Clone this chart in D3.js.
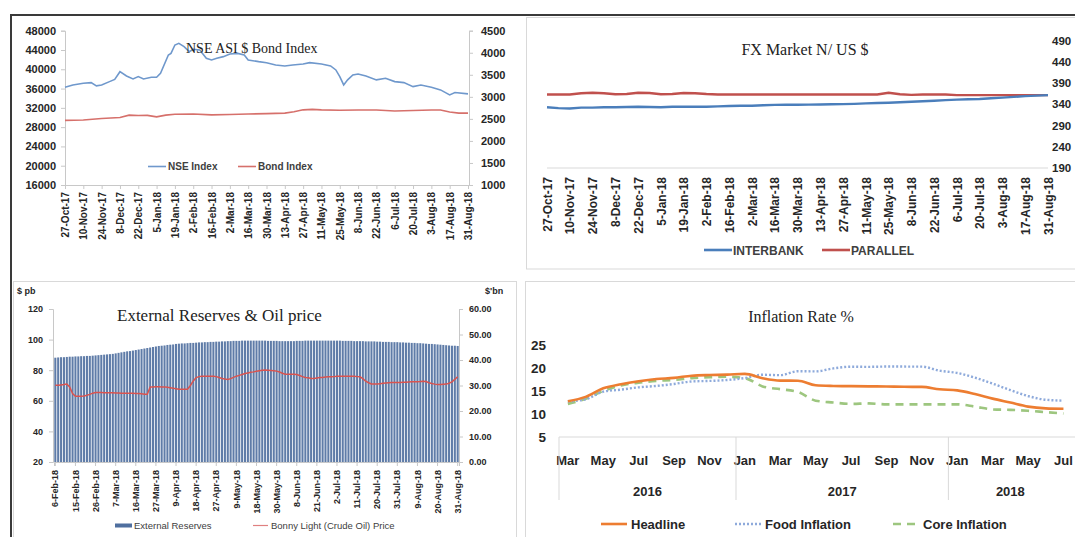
<!DOCTYPE html>
<html><head><meta charset="utf-8">
<script src="https://cdn.jsdelivr.net/npm/d3@7"></script>
<style>body{margin:0;background:#fff}svg{display:block}</style>
</head><body>
<svg id="c" width="1075" height="537"></svg>
<script>
// ================= DATA =================
// Panel 1: NSE ASI & Bond index
const nseDates = ["27-Oct-17","2-Nov-17","10-Nov-17","16-Nov-17","20-Nov-17","24-Nov-17","30-Nov-17","4-Dec-17","8-Dec-17","13-Dec-17","18-Dec-17","22-Dec-17","26-Dec-17","1-Jan-18","5-Jan-18","8-Jan-18","14-Jan-18","16-Jan-18","19-Jan-18","22-Jan-18","26-Jan-18","30-Jan-18","2-Feb-18","7-Feb-18","12-Feb-18","16-Feb-18","20-Feb-18","25-Feb-18","2-Mar-18","8-Mar-18","13-Mar-18","16-Mar-18","24-Mar-18","30-Mar-18","6-Apr-18","13-Apr-18","19-Apr-18","27-Apr-18","2-May-18","11-May-18","18-May-18","22-May-18","25-May-18","28-May-18","31-May-18","4-Jun-18","8-Jun-18","14-Jun-18","22-Jun-18","29-Jun-18","6-Jul-18","13-Jul-18","20-Jul-18","26-Jul-18","3-Aug-18","10-Aug-18","17-Aug-18","21-Aug-18","31-Aug-18"];
const nseIndex = [36270,36750,37100,37240,36550,36750,37440,37900,39500,38600,38000,38500,38000,38340,38340,39170,42960,43300,45030,45380,44700,43650,44140,44000,42270,41930,42270,42620,43170,43300,42960,41930,41580,41370,40890,40690,40890,41100,41370,41100,40690,39860,38480,36750,37800,38820,39030,38600,37800,38130,37440,37240,36400,36750,36270,35720,34680,35170,34890];
const bondDates = ["27-Oct-17","10-Nov-17","24-Nov-17","8-Dec-17","15-Dec-17","22-Dec-17","29-Dec-17","5-Jan-18","12-Jan-18","19-Jan-18","2-Feb-18","16-Feb-18","2-Mar-18","16-Mar-18","30-Mar-18","13-Apr-18","20-Apr-18","27-Apr-18","4-May-18","11-May-18","25-May-18","8-Jun-18","22-Jun-18","6-Jul-18","20-Jul-18","3-Aug-18","10-Aug-18","17-Aug-18","24-Aug-18","31-Aug-18"];
const bondIndex = [2465,2475,2510,2530,2585,2575,2580,2545,2585,2605,2610,2590,2600,2610,2620,2630,2660,2705,2715,2705,2695,2700,2700,2680,2690,2700,2700,2655,2630,2630];
const biweeklyTicks = ["27-Oct-17","10-Nov-17","24-Nov-17","8-Dec-17","22-Dec-17","5-Jan-18","19-Jan-18","2-Feb-18","16-Feb-18","2-Mar-18","16-Mar-18","30-Mar-18","13-Apr-18","27-Apr-18","11-May-18","25-May-18","8-Jun-18","22-Jun-18","6-Jul-18","20-Jul-18","3-Aug-18","17-Aug-18","31-Aug-18"];
const nseTicks = [16000,20000,24000,28000,32000,36000,40000,44000,48000];
const bondTicks = [1000,1500,2000,2500,3000,3500,4000,4500];

// Panel 2: FX market (weekly)
const fxDates = ["27-Oct-17","3-Nov-17","10-Nov-17","17-Nov-17","24-Nov-17","1-Dec-17","8-Dec-17","15-Dec-17","22-Dec-17","29-Dec-17","5-Jan-18","12-Jan-18","19-Jan-18","26-Jan-18","2-Feb-18","9-Feb-18","16-Feb-18","23-Feb-18","2-Mar-18","9-Mar-18","16-Mar-18","23-Mar-18","30-Mar-18","6-Apr-18","13-Apr-18","20-Apr-18","27-Apr-18","4-May-18","11-May-18","18-May-18","25-May-18","1-Jun-18","8-Jun-18","15-Jun-18","22-Jun-18","29-Jun-18","6-Jul-18","13-Jul-18","20-Jul-18","27-Jul-18","3-Aug-18","10-Aug-18","17-Aug-18","24-Aug-18","31-Aug-18"];
const interbank = [333,331,330,332,332,333,333,333.5,334,333.5,333,334,334.5,334,334,335,336,336.5,336.5,337.5,338.5,338.7,338.8,339,339.5,340,340.3,341,342,342.8,343.6,344.8,346,347.2,348.4,349.6,350.8,351.6,352.5,354,355.7,357.3,359,360.2,361.4];
const parallel = [363,363,363,366,367,366,363.5,364,367,366.5,363.5,364,366.5,366,364,363,363,363,363,363,363,363,363,363,363,363,363,363,363,363,367,363.5,362,363,363,363,361.5,361.5,361.5,361.5,361.5,361.5,361.5,361.5,361.5];
const fxTicks = [190,240,290,340,390,440,490];

// Panel 3: External reserves ($bn) & Bonny Light ($ pb), trading days
const reserveTicks = ["6-Feb-18","15-Feb-18","26-Feb-18","7-Mar-18","16-Mar-18","27-Mar-18","9-Apr-18","18-Apr-18","27-Apr-18","9-May-18","18-May-18","30-May-18","8-Jun-18","21-Jun-18","2-Jul-18","11-Jul-18","20-Jul-18","31-Jul-18","9-Aug-18","20-Aug-18","31-Aug-18"];
const reserves = [
40.9,41.0,41.1,41.1,41.2,41.3,41.3, 41.4,41.4,41.5,41.5,41.6,41.6,41.7,
41.8,41.9,42.0,42.1,42.2,42.3,42.4, 42.6,42.8,43.0,43.2,43.4,43.5,43.7,
43.9,44.1,44.3,44.5,44.7,44.9,45.1, 45.3,45.5,45.6,45.7,45.9,46.0,46.1,
46.3,46.4,46.5,46.5,46.6,46.7,46.7, 46.8,46.9,46.9,47.0,47.0,47.1,47.1,
47.2,47.2,47.3,47.3,47.4,47.4,47.5, 47.5,47.5,47.6,47.6,47.6,47.6,47.6,
47.6,47.6,47.6,47.6,47.5,47.5,47.5, 47.5,47.4,47.4,47.4,47.4,47.4,47.4,
47.5,47.5,47.5,47.6,47.6,47.6,47.6, 47.6,47.6,47.6,47.6,47.6,47.6,47.6,
47.6,47.6,47.5,47.5,47.5,47.5,47.4, 47.4,47.4,47.4,47.3,47.3,47.3,47.3,
47.2,47.2,47.1,47.1,47.1,47.0,47.0, 47.0,46.9,46.9,46.8,46.8,46.7,46.7,
46.6,46.6,46.5,46.4,46.3,46.3,46.2, 46.1,46.0,45.9,45.8,45.7,45.6,45.6,
45.5];
const oilPrice = [
70.2,70.2,70.4,70.6,70.9,69.0,64.8, 63.0,63.0,63.0,63.2,63.6,64.2,65.0,
65.4,65.4,65.4,65.3,65.3,65.2,65.2, 65.1,65.1,65.0,65.0,65.0,64.9,64.9,
64.8,64.8,64.6,64.3,64.3,69.1,69.1, 69.2,69.2,69.1,69.1,68.8,68.5,68.2,
67.9,67.6,67.6,67.6,67.6,70.0,73.0, 75.2,75.8,76.1,76.1,76.1,76.1,76.0,
75.8,75.2,74.6,74.2,73.9,74.5,75.3, 76.1,76.6,77.2,77.8,78.2,78.6,78.9,
79.3,79.7,80.0,80.2,80.0,79.8,79.6, 79.4,78.8,78.0,77.4,77.4,77.4,77.4,
77.2,76.5,75.8,75.2,75.0,74.6,74.6, 74.9,75.2,75.3,75.5,75.7,75.7,75.8,
76.0,76.1,76.1,76.1,76.1,76.1,76.0, 75.8,75.7,74.5,72.8,71.8,71.0,70.9,
71.0,71.2,71.4,71.6,71.8,72.0,72.0, 72.0,72.0,72.1,72.2,72.3,72.4,72.4,
72.5,72.6,72.8,72.6,71.8,71.3,70.9, 70.6,70.7,70.8,70.9,71.5,72.4,74.0,
75.7];
const oilTicks = [20,40,60,80,100,120];
const reserveAxisTicks = [0,10,20,30,40,50,60];

// Panel 4: Inflation (Mar 2016 - Jul 2018)
const months = ["Mar","Apr","May","Jun","Jul","Aug","Sep","Oct","Nov","Dec",
  "Jan","Feb","Mar","Apr","May","Jun","Jul","Aug","Sep","Oct","Nov","Dec",
  "Jan","Feb","Mar","Apr","May","Jun","Jul"];
const years = ["2016","2017","2018"];
const yearMonthCounts = [10,12,7];
const headline = [12.77,13.72,15.58,16.48,17.13,17.61,17.85,18.33,18.48,18.55,
  18.72,17.78,17.26,17.24,16.25,16.10,16.05,16.01,15.98,15.91,15.90,15.37,
  15.13,14.33,13.34,12.48,11.61,11.23,11.14];
const foodInflation = [12.72,13.20,14.85,15.30,15.80,16.10,16.53,17.08,17.19,17.39,
  17.82,18.53,18.44,19.30,19.27,19.91,20.28,20.25,20.32,20.31,20.30,19.42,
  18.92,17.90,16.60,15.20,13.90,13.10,12.90];
const coreInflation = [12.2,13.3,15.0,16.2,16.8,17.2,17.4,17.8,18.0,18.1,
  17.8,16.0,15.4,14.8,12.9,12.5,12.2,12.3,12.1,12.1,12.1,12.1,
  12.1,11.6,11.0,10.9,10.7,10.4,10.1];
const inflTicks = [5,10,15,20,25];

// ================= DRAWING =================
const svg = d3.select("#c");
const parse = d3.timeParse("%d-%b-%y");
const SANS = "'Liberation Sans', Arial, sans-serif";
const SERIF = "'Liberation Serif', 'Times New Roman', serif";
const AX = "#c8c8c8";
const TXT = "#262626";

svg.append("rect").attr("width",1075).attr("height",537).attr("fill","#fff");

// panel boxes
const boxes = [[526.5,17.5,560,251.5],[13.5,281.5,503,270],[525.5,281.5,560,270]];
boxes.forEach(b => svg.append("rect").attr("x",b[0]).attr("y",b[1]).attr("width",b[2]).attr("height",b[3])
  .attr("fill","none").attr("stroke","#d9d9d9").attr("stroke-width",1));
svg.append("path").attr("d","M11,537V15H1075").attr("fill","none").attr("stroke","#3a3a3a").attr("stroke-width",2);

function styleAxis(g, fs, weight){
  g.select(".domain").attr("stroke",AX);
  g.selectAll(".tick line").attr("stroke",AX);
  g.selectAll("text").attr("fill",TXT).style("font-family",SANS).style("font-size",fs+"px").style("font-weight",weight||"bold");
}

// ---------- Panel 1 ----------
{
  const L=65,R=468,T=30.7,B=185;
  const x = d3.scaleTime().domain([parse(biweeklyTicks[0]), parse(biweeklyTicks[biweeklyTicks.length-1])]).range([L,R]);
  const yL = d3.scaleLinear().domain([16000,48000]).range([B,T]);
  const yR = d3.scaleLinear().domain([1000,4500]).range([B,T]);
  const gl = svg.append("g").attr("transform",`translate(${L},0)`).call(d3.axisLeft(yL).tickValues(nseTicks).tickSize(4).tickPadding(5).tickFormat(d3.format("d")));
  styleAxis(gl,11);
  const gr = svg.append("g").attr("transform",`translate(${R+1},0)`).call(d3.axisRight(yR).tickValues(bondTicks).tickSize(4).tickPadding(8).tickFormat(d3.format("d")));
  styleAxis(gr,11);
  const gb = svg.append("g").attr("transform",`translate(0,${B})`).call(d3.axisBottom(x).tickValues(biweeklyTicks.map(parse)).tickSize(4).tickFormat(d3.timeFormat("%-d-%b-%y")));
  styleAxis(gb,10);
  gb.selectAll("text").attr("transform","rotate(-90)").attr("x",-7).attr("y",0).attr("dy","0.35em").style("text-anchor","end");

  svg.append("path").datum(bondDates.map((d,i)=>[parse(d),bondIndex[i]]))
    .attr("fill","none").attr("stroke","#d6706b").attr("stroke-width",1.6)
    .attr("d",d3.line().x(d=>x(d[0])).y(d=>yR(d[1])));
  svg.append("path").datum(nseDates.map((d,i)=>[parse(d),nseIndex[i]]))
    .attr("fill","none").attr("stroke","#6f98cc").attr("stroke-width",1.6)
    .attr("d",d3.line().x(d=>x(d[0])).y(d=>yL(d[1])));

  svg.append("text").attr("x",186).attr("y",53).text("NSE ASI $ Bond Index")
    .style("font-family",SERIF).style("font-size","14px").attr("fill","#222");
  const lg = [[148,"NSE Index","#6f98cc"],[238,"Bond Index","#d6706b"]];
  lg.forEach(l=>{
    svg.append("line").attr("x1",l[0]).attr("x2",l[0]+18).attr("y1",166.5).attr("y2",166.5).attr("stroke",l[2]).attr("stroke-width",1.6);
    svg.append("text").attr("x",l[0]+20).attr("y",170).text(l[1]).style("font-family",SANS).style("font-size","10px").style("font-weight","bold").attr("fill","#404040");
  });
}

// ---------- Panel 2 ----------
{
  const L=547,R=1048,T=40.5,B=168;
  const x = d3.scaleTime().domain([parse(biweeklyTicks[0]), parse(biweeklyTicks[biweeklyTicks.length-1])]).range([L,R]);
  const y = d3.scaleLinear().domain([190,490]).range([B,T]);
  svg.append("line").attr("x1",L).attr("x2",R).attr("y1",B).attr("y2",B).attr("stroke","#d9d9d9");
  const gr = svg.append("g").attr("transform",`translate(1052,0)`).call(d3.axisRight(y).tickValues(fxTicks).tickSize(0).tickPadding(0));
  gr.select(".domain").remove();
  styleAxis(gr,11.5);
  const gb = svg.append("g").attr("transform",`translate(0,${B})`).call(d3.axisBottom(x).tickValues(biweeklyTicks.map(parse)).tickSize(0).tickFormat(d3.timeFormat("%-d-%b-%y")));
  gb.select(".domain").remove();
  styleAxis(gb,12,"600");
  gb.selectAll("text").attr("transform","rotate(-90)").attr("x",-9).attr("y",0).attr("dy","0.35em").style("text-anchor","end");

  const line = d3.line().x(d=>x(d[0])).y(d=>y(d[1]));
  svg.append("path").datum(fxDates.map((d,i)=>[parse(d),parallel[i]])).attr("fill","none").attr("stroke","#c0504d").attr("stroke-width",2.4).attr("d",line);
  svg.append("path").datum(fxDates.map((d,i)=>[parse(d),interbank[i]])).attr("fill","none").attr("stroke","#4a7ebb").attr("stroke-width",2.4).attr("d",line);

  svg.append("text").attr("x",805).attr("y",55).attr("text-anchor","middle").text("FX Market N/ US $")
    .style("font-family",SERIF).style("font-size","16px").attr("fill","#222");
  const lg = [[704,"INTERBANK","#4a7ebb"],[822,"PARALLEL","#c0504d"]];
  lg.forEach(l=>{
    svg.append("line").attr("x1",l[0]).attr("x2",l[0]+28).attr("y1",250).attr("y2",250).attr("stroke",l[2]).attr("stroke-width",2.6);
    svg.append("text").attr("x",l[0]+29).attr("y",254.5).text(l[1]).style("font-family",SANS).style("font-size","12px").style("font-weight","bold").attr("fill","#404040");
  });
}

// ---------- Panel 3 ----------
{
  const L=54,R=459,T=309,B=462;
  const x = d3.scaleBand().domain(d3.range(reserves.length)).range([L,R]).paddingInner(0.28).paddingOuter(0.1);
  const yL = d3.scaleLinear().domain([20,120]).range([B,T]);
  const yR = d3.scaleLinear().domain([0,60]).range([B,T]);
  svg.append("g").selectAll("rect").data(reserves).join("rect")
    .attr("x",(d,i)=>x(i)).attr("width",x.bandwidth()).attr("y",d=>yR(d)).attr("height",d=>B-yR(d))
    .attr("fill","#5f7ca8");
  const gl = svg.append("g").attr("transform",`translate(${L-1},0)`).call(d3.axisLeft(yL).tickValues(oilTicks).tickSize(4).tickPadding(6));
  styleAxis(gl,9);
  const gr = svg.append("g").attr("transform",`translate(${R},0)`).call(d3.axisRight(yR).tickValues(reserveAxisTicks).tickSize(4).tickPadding(6).tickFormat(d3.format(".2f")));
  styleAxis(gr,9);
  const gb = svg.append("g").attr("transform",`translate(0,${B})`).call(d3.axisBottom(x).tickValues(d3.range(0,reserves.length,7)).tickSize(4).tickFormat(i=>reserveTicks[i/7]));
  styleAxis(gb,9);
  gb.selectAll("text").attr("transform","rotate(-90)").attr("x",-8).attr("y",0).attr("dy","0.35em").style("text-anchor","end");

  svg.append("path").datum(oilPrice).attr("fill","none").attr("stroke","#d9534f").attr("stroke-width",1.5)
    .attr("d",d3.line().x((d,i)=>x(i)+x.bandwidth()/2).y(d=>yL(d)));

  svg.append("text").attr("x",17).attr("y",294).text("$ pb").style("font-family",SANS).style("font-size","9px").style("font-weight","bold").attr("fill",TXT);
  svg.append("text").attr("x",485).attr("y",294).text("$'bn").style("font-family",SANS).style("font-size","9px").style("font-weight","bold").attr("fill",TXT);
  svg.append("text").attr("x",117).attr("y",321).text("External Reserves & Oil price")
    .style("font-family",SERIF).style("font-size","17px").attr("fill","#222");
  svg.append("rect").attr("x",115).attr("y",523.5).attr("width",17).attr("height",4).attr("fill","#4f6f9f");
  svg.append("text").attr("x",134).attr("y",529).text("External Reserves").style("font-family",SANS).style("font-size","9.5px").attr("fill","#404040");
  svg.append("line").attr("x1",253).attr("x2",268).attr("y1",525.5).attr("y2",525.5).attr("stroke","#e08080").attr("stroke-width",1.2);
  svg.append("text").attr("x",271).attr("y",529).text("Bonny Light (Crude Oil) Price").style("font-family",SANS).style("font-size","9.5px").attr("fill","#404040");
}

// ---------- Panel 4 ----------
{
  const L=559,STEP=17.7,T=345,B=437;
  const x = d3.scaleBand().domain(d3.range(months.length)).range([L,L+STEP*months.length]);
  const y = d3.scaleLinear().domain([5,25]).range([B,T]);
  svg.append("line").attr("x1",L).attr("x2",1075).attr("y1",B).attr("y2",B).attr("stroke","#d9d9d9");
  const gl = svg.append("g").attr("transform",`translate(546,0)`).call(d3.axisLeft(y).tickValues(inflTicks).tickSize(0).tickPadding(0));
  gl.select(".domain").remove();
  styleAxis(gl,13.5);
  // month labels
  svg.append("g").selectAll("text").data(d3.range(0,months.length,2)).join("text")
    .attr("x",i=>x(i)+x.bandwidth()/2).attr("y",465).attr("text-anchor","middle").text(i=>months[i])
    .style("font-family",SANS).style("font-size","13px").style("font-weight","bold").attr("fill",TXT);
  // year groups
  let start=0;
  yearMonthCounts.forEach((c,k)=>{
    const x0 = x(start), x1 = Math.min(x(start+c-1)+x.bandwidth(), 1075);
    svg.append("line").attr("x1",x0).attr("x2",x0).attr("y1",B).attr("y2",500).attr("stroke","#d9d9d9");
    svg.append("text").attr("x",(x0+x1)/2).attr("y",496).attr("text-anchor","middle").text(years[k])
      .style("font-family",SANS).style("font-size","13px").style("font-weight","bold").attr("fill",TXT);
    start+=c;
  });
  const line = d3.line().x((d,i)=>x(i)+x.bandwidth()/2).y(d=>y(d)).curve(d3.curveMonotoneX);
  svg.append("path").datum(coreInflation).attr("fill","none").attr("stroke","#9dc67f").attr("stroke-width",2.6).attr("stroke-dasharray","8,6").attr("d",line);
  svg.append("path").datum(foodInflation).attr("fill","none").attr("stroke","#8eaadb").attr("stroke-width",2.4).attr("stroke-dasharray","2,2").attr("d",line);
  svg.append("path").datum(headline).attr("fill","none").attr("stroke","#ed7d31").attr("stroke-width",2.6).attr("d",line);

  svg.append("text").attr("x",801).attr("y",322).attr("text-anchor","middle").text("Inflation Rate %")
    .style("font-family",SERIF).style("font-size","16px").attr("fill","#222");
  const lg = [[601,"Headline","#ed7d31",null],[735,"Food Inflation","#8eaadb","2,2"],[893,"Core Inflation","#9dc67f","8,6"]];
  lg.forEach(l=>{
    svg.append("line").attr("x1",l[0]).attr("x2",l[0]+26).attr("y1",524).attr("y2",524).attr("stroke",l[2]).attr("stroke-width",2.6).attr("stroke-dasharray",l[3]);
    svg.append("text").attr("x",l[0]+30).attr("y",529).text(l[1]).style("font-family",SANS).style("font-size","13px").style("font-weight","bold").attr("fill",TXT);
  });
}
</script>
</body></html>
